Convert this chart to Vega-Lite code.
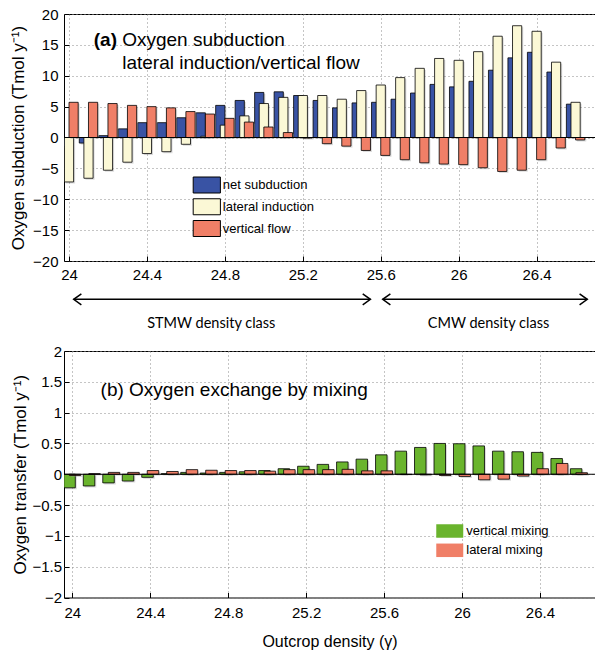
{
  "$schema": "https://vega.github.io/schema/vega-lite/v6.json",
  "background": "white",
  "padding": {"left": 9, "top": 6, "right": 0, "bottom": 0},
  "spacing": 12,
  "resolve": {"scale": {"color": "independent"}, "legend": {"color": "independent"}},
  "config": {
    "font": "Liberation Sans",
    "view": {"stroke": "black", "strokeWidth": 1},
    "axis": {
      "grid": true,
      "gridDash": [1, 3],
      "gridColor": "#8a8a8a",
      "gridWidth": 1,
      "domain": false,
      "ticks": true,
      "tickColor": "black",
      "tickSize": -5,
      "labelFont": "Liberation Sans",
      "labelFontSize": 15,
      "labelColor": "black",
      "labelPadding": 7,
      "labelOverlap": false,
      "labelSeparation": 0,
      "titleFont": "Liberation Sans",
      "titleFontSize": 17,
      "titleFontWeight": "normal",
      "titleColor": "black"
    },
    "axisY": {"labelOverlap": false},
    "legend": {
      "labelFont": "Liberation Sans",
      "labelFontSize": 13,
      "labelColor": "black",
      "padding": 0,
      "rowPadding": 0,
      "symbolOpacity": 1
    }
  },
  "datasets": {
    "subduction": [
      {"sigma": 24.0, "series": "net subduction", "value": -1.5},
      {"sigma": 24.1, "series": "net subduction", "value": -0.9},
      {"sigma": 24.2, "series": "net subduction", "value": 0.3},
      {"sigma": 24.3, "series": "net subduction", "value": 1.4},
      {"sigma": 24.4, "series": "net subduction", "value": 2.4},
      {"sigma": 24.5, "series": "net subduction", "value": 2.4},
      {"sigma": 24.6, "series": "net subduction", "value": 3.2},
      {"sigma": 24.7, "series": "net subduction", "value": 4.0},
      {"sigma": 24.8, "series": "net subduction", "value": 5.2},
      {"sigma": 24.9, "series": "net subduction", "value": 6.0},
      {"sigma": 25.0, "series": "net subduction", "value": 7.3},
      {"sigma": 25.1, "series": "net subduction", "value": 7.4},
      {"sigma": 25.2, "series": "net subduction", "value": 6.8},
      {"sigma": 25.3, "series": "net subduction", "value": 6.0},
      {"sigma": 25.4, "series": "net subduction", "value": 4.8},
      {"sigma": 25.5, "series": "net subduction", "value": 5.6},
      {"sigma": 25.6, "series": "net subduction", "value": 5.7},
      {"sigma": 25.7, "series": "net subduction", "value": 6.2},
      {"sigma": 25.8, "series": "net subduction", "value": 7.2},
      {"sigma": 25.9, "series": "net subduction", "value": 8.6},
      {"sigma": 26.0, "series": "net subduction", "value": 8.2},
      {"sigma": 26.1, "series": "net subduction", "value": 9.1},
      {"sigma": 26.2, "series": "net subduction", "value": 10.9},
      {"sigma": 26.3, "series": "net subduction", "value": 12.9},
      {"sigma": 26.4, "series": "net subduction", "value": 13.8},
      {"sigma": 26.5, "series": "net subduction", "value": 10.6},
      {"sigma": 26.6, "series": "net subduction", "value": 5.4},
      {"sigma": 24.0, "series": "lateral induction", "value": -7.2},
      {"sigma": 24.1, "series": "lateral induction", "value": -6.6},
      {"sigma": 24.2, "series": "lateral induction", "value": -5.3},
      {"sigma": 24.3, "series": "lateral induction", "value": -4.0},
      {"sigma": 24.4, "series": "lateral induction", "value": -2.6},
      {"sigma": 24.5, "series": "lateral induction", "value": -2.3},
      {"sigma": 24.6, "series": "lateral induction", "value": -1.1},
      {"sigma": 24.7, "series": "lateral induction", "value": 0.2},
      {"sigma": 24.8, "series": "lateral induction", "value": 2.0},
      {"sigma": 24.9, "series": "lateral induction", "value": 3.5},
      {"sigma": 25.0, "series": "lateral induction", "value": 5.5},
      {"sigma": 25.1, "series": "lateral induction", "value": 6.5},
      {"sigma": 25.2, "series": "lateral induction", "value": 6.8},
      {"sigma": 25.3, "series": "lateral induction", "value": 6.8},
      {"sigma": 25.4, "series": "lateral induction", "value": 6.2},
      {"sigma": 25.5, "series": "lateral induction", "value": 7.6},
      {"sigma": 25.6, "series": "lateral induction", "value": 8.5},
      {"sigma": 25.7, "series": "lateral induction", "value": 9.7},
      {"sigma": 25.8, "series": "lateral induction", "value": 11.2},
      {"sigma": 25.9, "series": "lateral induction", "value": 12.8},
      {"sigma": 26.0, "series": "lateral induction", "value": 12.5},
      {"sigma": 26.1, "series": "lateral induction", "value": 13.9},
      {"sigma": 26.2, "series": "lateral induction", "value": 16.4},
      {"sigma": 26.3, "series": "lateral induction", "value": 18.1},
      {"sigma": 26.4, "series": "lateral induction", "value": 17.2},
      {"sigma": 26.5, "series": "lateral induction", "value": 12.2},
      {"sigma": 26.6, "series": "lateral induction", "value": 5.7},
      {"sigma": 24.0, "series": "vertical flow", "value": 5.7},
      {"sigma": 24.1, "series": "vertical flow", "value": 5.7},
      {"sigma": 24.2, "series": "vertical flow", "value": 5.5},
      {"sigma": 24.3, "series": "vertical flow", "value": 5.2},
      {"sigma": 24.4, "series": "vertical flow", "value": 5.0},
      {"sigma": 24.5, "series": "vertical flow", "value": 4.8},
      {"sigma": 24.6, "series": "vertical flow", "value": 4.2},
      {"sigma": 24.7, "series": "vertical flow", "value": 3.8},
      {"sigma": 24.8, "series": "vertical flow", "value": 3.1},
      {"sigma": 24.9, "series": "vertical flow", "value": 2.5},
      {"sigma": 25.0, "series": "vertical flow", "value": 1.7},
      {"sigma": 25.1, "series": "vertical flow", "value": 0.8},
      {"sigma": 25.2, "series": "vertical flow", "value": -0.1},
      {"sigma": 25.3, "series": "vertical flow", "value": -1.0},
      {"sigma": 25.4, "series": "vertical flow", "value": -1.4},
      {"sigma": 25.5, "series": "vertical flow", "value": -2.1},
      {"sigma": 25.6, "series": "vertical flow", "value": -2.9},
      {"sigma": 25.7, "series": "vertical flow", "value": -3.6},
      {"sigma": 25.8, "series": "vertical flow", "value": -4.1},
      {"sigma": 25.9, "series": "vertical flow", "value": -4.3},
      {"sigma": 26.0, "series": "vertical flow", "value": -4.4},
      {"sigma": 26.1, "series": "vertical flow", "value": -4.9},
      {"sigma": 26.2, "series": "vertical flow", "value": -5.5},
      {"sigma": 26.3, "series": "vertical flow", "value": -5.3},
      {"sigma": 26.4, "series": "vertical flow", "value": -3.6},
      {"sigma": 26.5, "series": "vertical flow", "value": -1.7},
      {"sigma": 26.6, "series": "vertical flow", "value": -0.4}
    ],
    "mixing": [
      {"sigma": 24.0, "series": "vertical mixing", "value": -0.22},
      {"sigma": 24.1, "series": "vertical mixing", "value": -0.19},
      {"sigma": 24.2, "series": "vertical mixing", "value": -0.14},
      {"sigma": 24.3, "series": "vertical mixing", "value": -0.11},
      {"sigma": 24.4, "series": "vertical mixing", "value": -0.05},
      {"sigma": 24.5, "series": "vertical mixing", "value": 0.01},
      {"sigma": 24.6, "series": "vertical mixing", "value": 0.03},
      {"sigma": 24.7, "series": "vertical mixing", "value": 0.02},
      {"sigma": 24.8, "series": "vertical mixing", "value": 0.03},
      {"sigma": 24.9, "series": "vertical mixing", "value": 0.04},
      {"sigma": 25.0, "series": "vertical mixing", "value": 0.06},
      {"sigma": 25.1, "series": "vertical mixing", "value": 0.09},
      {"sigma": 25.2, "series": "vertical mixing", "value": 0.13},
      {"sigma": 25.3, "series": "vertical mixing", "value": 0.16},
      {"sigma": 25.4, "series": "vertical mixing", "value": 0.2},
      {"sigma": 25.5, "series": "vertical mixing", "value": 0.245},
      {"sigma": 25.6, "series": "vertical mixing", "value": 0.315},
      {"sigma": 25.7, "series": "vertical mixing", "value": 0.375},
      {"sigma": 25.8, "series": "vertical mixing", "value": 0.435},
      {"sigma": 25.9, "series": "vertical mixing", "value": 0.5},
      {"sigma": 26.0, "series": "vertical mixing", "value": 0.495},
      {"sigma": 26.1, "series": "vertical mixing", "value": 0.46},
      {"sigma": 26.2, "series": "vertical mixing", "value": 0.375},
      {"sigma": 26.3, "series": "vertical mixing", "value": 0.365},
      {"sigma": 26.4, "series": "vertical mixing", "value": 0.355},
      {"sigma": 26.5, "series": "vertical mixing", "value": 0.255},
      {"sigma": 26.6, "series": "vertical mixing", "value": 0.09},
      {"sigma": 24.0, "series": "lateral mixing", "value": -0.02},
      {"sigma": 24.1, "series": "lateral mixing", "value": 0.01},
      {"sigma": 24.2, "series": "lateral mixing", "value": 0.03},
      {"sigma": 24.3, "series": "lateral mixing", "value": 0.03},
      {"sigma": 24.4, "series": "lateral mixing", "value": 0.06},
      {"sigma": 24.5, "series": "lateral mixing", "value": 0.045},
      {"sigma": 24.6, "series": "lateral mixing", "value": 0.075},
      {"sigma": 24.7, "series": "lateral mixing", "value": 0.065},
      {"sigma": 24.8, "series": "lateral mixing", "value": 0.06},
      {"sigma": 24.9, "series": "lateral mixing", "value": 0.06},
      {"sigma": 25.0, "series": "lateral mixing", "value": 0.05},
      {"sigma": 25.1, "series": "lateral mixing", "value": 0.075},
      {"sigma": 25.2, "series": "lateral mixing", "value": 0.075},
      {"sigma": 25.3, "series": "lateral mixing", "value": 0.075},
      {"sigma": 25.4, "series": "lateral mixing", "value": 0.08},
      {"sigma": 25.5, "series": "lateral mixing", "value": 0.055},
      {"sigma": 25.6, "series": "lateral mixing", "value": 0.055},
      {"sigma": 25.7, "series": "lateral mixing", "value": -0.005},
      {"sigma": 25.8, "series": "lateral mixing", "value": -0.01},
      {"sigma": 25.9, "series": "lateral mixing", "value": -0.02},
      {"sigma": 26.0, "series": "lateral mixing", "value": -0.035},
      {"sigma": 26.1, "series": "lateral mixing", "value": -0.09},
      {"sigma": 26.2, "series": "lateral mixing", "value": -0.08},
      {"sigma": 26.3, "series": "lateral mixing", "value": -0.03},
      {"sigma": 26.4, "series": "lateral mixing", "value": 0.09},
      {"sigma": 26.5, "series": "lateral mixing", "value": 0.175},
      {"sigma": 26.6, "series": "lateral mixing", "value": 0.025}
    ]
  },
  "vconcat": [
    {
      "width": 531,
      "height": 247,
      "layer": [
        {
          "data": {"name": "subduction"},
          "transform": [{"filter": "datum.series === 'net subduction'"}],
          "mark": {"type": "bar", "width": 9.2, "xOffset": -3.1, "yOffset": 1.5, "fill": "#999999", "opacity": 0.35, "clip": true},
          "encoding": {
            "x": {
              "field": "sigma",
              "type": "quantitative",
              "scale": {"domain": [24, 26.674], "nice": false, "zero": false},
              "axis": {"title": null, "values": [24, 24.4, 24.8, 25.2, 25.6, 26, 26.4], "format": "~g", "labelPadding": 11.5, "labelOverlap": false}
            },
            "y": {
              "field": "value",
              "type": "quantitative",
              "scale": {"domain": [-20, 20], "nice": false},
              "axis": {"title": "Oxygen subduction (Tmol y⁻¹)", "values": [-20, -15, -10, -5, 0, 5, 10, 15, 20], "tickCount": 9, "labelExpr": "format(datum.value, '~g')", "labelPadding": 11, "titlePadding": 5, "labelOverlap": false, "labelSeparation": 0}
            }
          }
        },
        {
          "data": {"name": "subduction"},
          "transform": [{"filter": "datum.series === 'net subduction'"}],
          "mark": {"type": "bar", "width": 9.2, "xOffset": -4.6, "stroke": "black", "strokeWidth": 0.8, "clip": true},
          "encoding": {
            "x": {"field": "sigma", "type": "quantitative"},
            "y": {"field": "value", "type": "quantitative"},
            "color": {
              "field": "series",
              "type": "nominal",
              "scale": {
                "domain": ["net subduction", "lateral induction", "vertical flow"],
                "range": ["#3953a4", "#fbf8d6", "#f07f67"]
              },
              "legend": {
                "title": null,
                "orient": "none",
                "legendX": 134.3,
                "legendY": 162.5,
                "symbolType": "M-1.7,-1H1.7V1H-1.7Z",
                "symbolSize": 256,
                "symbolStrokeColor": "black",
                "symbolStrokeWidth": 1,
                "labelOffset": 7.5,
                "rowPadding": 0.75
              }
            }
          }
        },
        {
          "data": {"name": "subduction"},
          "transform": [{"filter": "datum.series === 'lateral induction'"}],
          "mark": {"type": "bar", "width": 9.2, "xOffset": 1.5, "yOffset": 1.5, "fill": "#999999", "opacity": 0.35, "clip": true},
          "encoding": {
            "x": {"field": "sigma", "type": "quantitative"},
            "y": {"field": "value", "type": "quantitative"}
          }
        },
        {
          "data": {"name": "subduction"},
          "transform": [{"filter": "datum.series === 'lateral induction'"}],
          "mark": {"type": "bar", "width": 9.2, "xOffset": 0, "stroke": "black", "strokeWidth": 0.8, "clip": true},
          "encoding": {
            "x": {"field": "sigma", "type": "quantitative"},
            "y": {"field": "value", "type": "quantitative"},
            "color": {"field": "series", "type": "nominal"}
          }
        },
        {
          "data": {"name": "subduction"},
          "transform": [{"filter": "datum.series === 'vertical flow'"}],
          "mark": {"type": "bar", "width": 9.2, "xOffset": 6.1, "yOffset": 1.5, "fill": "#999999", "opacity": 0.35, "clip": true},
          "encoding": {
            "x": {"field": "sigma", "type": "quantitative"},
            "y": {"field": "value", "type": "quantitative"}
          }
        },
        {
          "data": {"name": "subduction"},
          "transform": [{"filter": "datum.series === 'vertical flow'"}],
          "mark": {"type": "bar", "width": 9.2, "xOffset": 4.6, "stroke": "black", "strokeWidth": 0.8, "clip": true},
          "encoding": {
            "x": {"field": "sigma", "type": "quantitative"},
            "y": {"field": "value", "type": "quantitative"},
            "color": {"field": "series", "type": "nominal"}
          }
        },
        {
          "data": {"values": [{}]},
          "mark": {"type": "rule", "color": "black", "strokeWidth": 1},
          "encoding": {"y": {"datum": 0}}
        },
        {
          "data": {"values": [{}]},
          "mark": {"type": "text", "align": "left", "baseline": "alphabetic", "fontSize": 19, "fontWeight": "bold", "color": "black"},
          "encoding": {"x": {"datum": 24.127}, "y": {"datum": 14.82}, "text": {"value": "(a)"}}
        },
        {
          "data": {"values": [{}]},
          "mark": {"type": "text", "align": "left", "baseline": "alphabetic", "fontSize": 19, "color": "black", "lineHeight": 23},
          "encoding": {"x": {"datum": 24.273}, "y": {"datum": 14.82}, "text": {"value": ["Oxygen subduction", "lateral induction/vertical flow"]}}
        },
        {
          "data": {"values": [{}]},
          "mark": {"type": "rule", "color": "black", "strokeWidth": 1.5},
          "encoding": {"x": {"datum": 24.024}, "x2": {"datum": 25.547}, "y": {"datum": -26.2}}
        },
        {
          "data": {"values": [{}]},
          "mark": {"type": "rule", "color": "black", "strokeWidth": 1.5},
          "encoding": {"x": {"datum": 25.61}, "x2": {"datum": 26.66}, "y": {"datum": -26.2}}
        },
        {
          "data": {"values": [{}]},
          "mark": {"type": "point", "shape": "M1.4,-1L0,0L1.4,1", "size": 121, "filled": false, "stroke": "black", "strokeWidth": 1.5, "opacity": 1},
          "encoding": {"x": {"datum": 24.024}, "y": {"datum": -26.2}}
        },
        {
          "data": {"values": [{}]},
          "mark": {"type": "point", "shape": "M-1.4,-1L0,0L-1.4,1", "size": 121, "filled": false, "stroke": "black", "strokeWidth": 1.5, "opacity": 1},
          "encoding": {"x": {"datum": 25.547}, "y": {"datum": -26.2}}
        },
        {
          "data": {"values": [{}]},
          "mark": {"type": "point", "shape": "M1.4,-1L0,0L1.4,1", "size": 121, "filled": false, "stroke": "black", "strokeWidth": 1.5, "opacity": 1},
          "encoding": {"x": {"datum": 25.61}, "y": {"datum": -26.2}}
        },
        {
          "data": {"values": [{}]},
          "mark": {"type": "point", "shape": "M-1.4,-1L0,0L-1.4,1", "size": 121, "filled": false, "stroke": "black", "strokeWidth": 1.5, "opacity": 1},
          "encoding": {"x": {"datum": 26.66}, "y": {"datum": -26.2}}
        },
        {
          "data": {"values": [{}]},
          "mark": {"type": "text", "align": "center", "baseline": "middle", "fontSize": 14.5, "font": "Lato", "color": "black"},
          "encoding": {"x": {"datum": 24.73}, "y": {"datum": -30.2}, "text": {"value": "STMW density class"}}
        },
        {
          "data": {"values": [{}]},
          "mark": {"type": "text", "align": "center", "baseline": "middle", "fontSize": 14.5, "font": "Lato", "color": "black"},
          "encoding": {"x": {"datum": 26.153}, "y": {"datum": -30.2}, "text": {"value": "CMW density class"}}
        }
      ]
    },
    {
      "width": 531,
      "height": 246.5,
      "layer": [
        {
          "data": {"name": "mixing"},
          "transform": [{"filter": "datum.series === 'vertical mixing'"}],
          "mark": {"type": "bar", "width": 11.5, "xOffset": -1.25, "yOffset": 1.5, "fill": "#999999", "opacity": 0.35, "clip": true},
          "encoding": {
            "x": {
              "field": "sigma",
              "type": "quantitative",
              "scale": {"domain": [23.983, 26.657], "nice": false, "zero": false},
              "axis": {"title": "Outcrop density (γ)", "titleFontSize": 16, "titlePadding": 13, "values": [24, 24.4, 24.8, 25.2, 25.6, 26, 26.4], "format": "~g", "labelPadding": 13, "labelOverlap": false}
            },
            "y": {
              "field": "value",
              "type": "quantitative",
              "scale": {"domain": [-2, 2], "nice": false},
              "axis": {"title": "Oxygen transfer (Tmol y⁻¹)", "values": [-2, -1.5, -1, -0.5, 0, 0.5, 1, 1.5, 2], "tickCount": 9, "labelExpr": "format(datum.value, '~g')", "labelPadding": 7.5, "titlePadding": 2.5, "labelOverlap": false, "labelSeparation": 0}
            }
          }
        },
        {
          "data": {"name": "mixing"},
          "transform": [{"filter": "datum.series === 'vertical mixing'"}],
          "mark": {"type": "bar", "width": 11.5, "xOffset": -2.75, "stroke": "black", "strokeWidth": 0.8, "clip": true},
          "encoding": {
            "x": {"field": "sigma", "type": "quantitative"},
            "y": {"field": "value", "type": "quantitative"},
            "color": {
              "field": "series",
              "type": "nominal",
              "scale": {
                "domain": ["vertical mixing", "lateral mixing"],
                "range": ["#6ab42d", "#f07f67"]
              },
              "legend": {
                "title": null,
                "orient": "none",
                "legendX": 378.75,
                "legendY": 173,
                "symbolType": "M-2,-1H2V1H-2Z",
                "symbolSize": 182,
                "symbolStrokeWidth": 0,
                "labelOffset": 9.5,
                "rowPadding": 5.3
              }
            }
          }
        },
        {
          "data": {"name": "mixing"},
          "transform": [{"filter": "datum.series === 'lateral mixing'"}],
          "mark": {"type": "bar", "width": 11.5, "xOffset": 4.25, "yOffset": 1.5, "fill": "#999999", "opacity": 0.35, "clip": true},
          "encoding": {
            "x": {"field": "sigma", "type": "quantitative"},
            "y": {"field": "value", "type": "quantitative"}
          }
        },
        {
          "data": {"name": "mixing"},
          "transform": [{"filter": "datum.series === 'lateral mixing'"}],
          "mark": {"type": "bar", "width": 11.5, "xOffset": 2.75, "stroke": "black", "strokeWidth": 0.8, "clip": true},
          "encoding": {
            "x": {"field": "sigma", "type": "quantitative"},
            "y": {"field": "value", "type": "quantitative"},
            "color": {"field": "series", "type": "nominal"}
          }
        },
        {
          "data": {"values": [{}]},
          "mark": {"type": "rule", "color": "black", "strokeWidth": 1},
          "encoding": {"y": {"datum": 0}}
        },
        {
          "data": {"values": [{}]},
          "mark": {"type": "text", "align": "left", "baseline": "alphabetic", "fontSize": 19, "color": "black"},
          "encoding": {"x": {"datum": 24.145}, "y": {"datum": 1.265}, "text": {"value": "(b) Oxygen exchange by mixing"}}
        }
      ]
    }
  ]
}
